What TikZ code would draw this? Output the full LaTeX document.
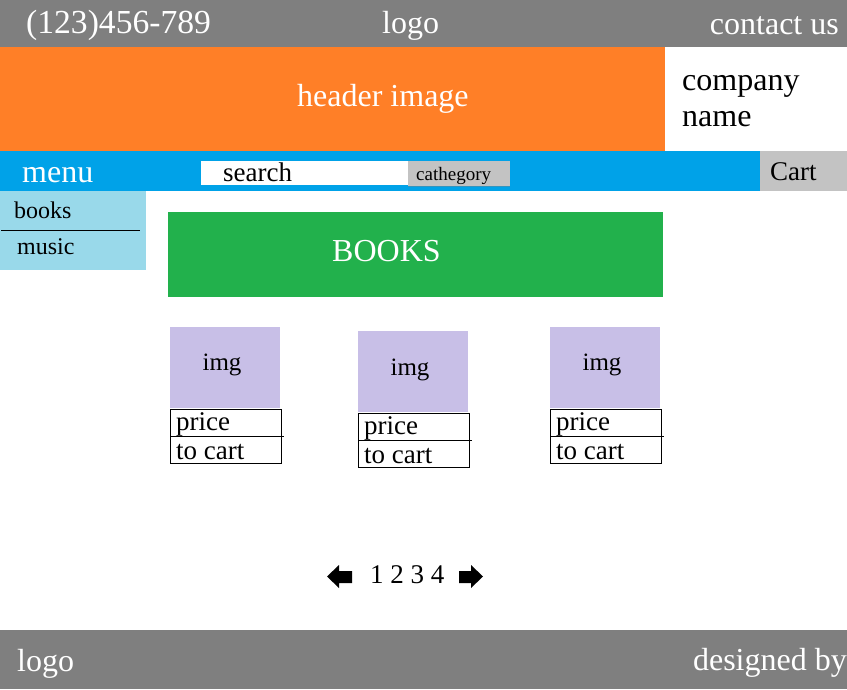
\documentclass[tikz,border=0pt]{standalone}
\usepackage{fontspec}
\setmainfont{Liberation Serif}
\usetikzlibrary{positioning}

\definecolor{bargray}{RGB}{127,127,127}
\definecolor{headorange}{RGB}{255,127,39}
\definecolor{menublue}{RGB}{0,162,232}
\definecolor{sideblue}{RGB}{153,217,234}
\definecolor{bannergreen}{RGB}{34,177,76}
\definecolor{imglilac}{RGB}{200,191,231}
\definecolor{btngray}{RGB}{195,195,195}

\begin{document}
\begin{tikzpicture}[x=1pt,y=-1pt,
	box/.style={inner sep=0pt,outer sep=0pt,anchor=north west},
	cell/.style={box,draw,line width=1pt,minimum width=111pt,minimum height=27pt},
	img node/.style={box,fill=imglilac,minimum width=110pt,minimum height=81pt},
	word/.style={inner sep=0pt,anchor=base west,font=\fontsize{#1}{#1}\selectfont},
	word/.default=32]
	
	\useasboundingbox (0,0) rectangle (847,689);
	
	% bars and blocks
	\node[box,fill=bargray,minimum width=847pt,minimum height=47pt] (topbar) at (0,0) {};
	\node[box,fill=headorange,minimum width=665pt,minimum height=104pt] (header) at (0,47) {};
	\node[box,fill=menublue,minimum width=760pt,minimum height=40pt] (menubar) at (0,151) {};
	\node[box,fill=btngray,minimum width=87pt,minimum height=40pt] (cart) at (760,151) {};
	\node[box,fill=white,minimum width=207pt,minimum height=24pt] (search) at (201,161) {};
	\node[box,fill=btngray,minimum width=102pt,minimum height=25pt] (cat) at (408,161) {};
	\node[box,fill=sideblue,minimum width=146pt,minimum height=79pt] (side) at (0,191) {};
	\node[box,fill=bannergreen,minimum width=495pt,minimum height=85pt] (banner) at (168,212) {};
	\node[box,fill=bargray,minimum width=847pt,minimum height=59pt] (bottombar) at (0,630) {};
	
	\draw ([xshift=1pt]side.west) -- ([xshift=-6pt]side.east);
	\draw[menublue!60!gray] (cat.south west) -- (cat.south east);
	
	% cards
	\node[img node] (img1) at (170,327) {};
	\node[cell] (price1) at (170,409) {};
	\node[cell,below=0pt of price1] (tocart1) {};
	\node[img node] (img2) at (358,331) {};
	\node[cell] (price2) at (358,413) {};
	\node[cell,below=0pt of price2] (tocart2) {};
	\node[img node] (img3) at (550,327) {};
	\node[cell] (price3) at (550,409) {};
	\node[cell,below=0pt of price3] (tocart3) {};
	
	\draw[line width=1pt] (price1.south east) -- ++(3,0);
	\draw[line width=1pt] (price2.south east) -- ++(3,0);
	\draw[line width=1pt] (price3.south east) -- ++(3,0);
	
	% texts
	\node[word=33.6,text=white] (phone) at (26,33) {(123)456-789};
	\node[word,text=white] (logotop) at (382,33) {logo};
	\node[word,text=white,anchor=base east] (contact) at (839,34) {contact us};
	\node[word,text=white] (headtext) at (297,106) {header image};
	\node[word] (company) at (682,90) {company};
	\node[word] (name) at (682,126) {name};
	\node[word,text=white] (menutext) at (22,182) {menu};
	\node[word=27] (searchtext) at (223,181) {search};
	\node[word=19] (cattext) at (416,180) {cathegory};
	\node[word=27] (carttext) at (770,180) {Cart};
	\node[word=24] (books) at (14,218) {books};
	\node[word=24] (music) at (17,254) {music};
	\node[word,text=white] (bannertext) at (332,261) {BOOKS};
	
	\node[word=25,anchor=base] (imgtext1) at (222,370) {img};
	\node[word=27] (pricetext1) at (176,430) {price};
	\node[word=27] (carttext1) at (176,459) {to cart};
	\node[word=25,anchor=base] (imgtext2) at (410,375) {img};
	\node[word=27] (pricetext2) at (364,434) {price};
	\node[word=27] (carttext2) at (364,463) {to cart};
	\node[word=25,anchor=base] (imgtext3) at (602,370) {img};
	\node[word=27] (pricetext3) at (556,430) {price};
	\node[word=27] (carttext3) at (556,459) {to cart};
	
	% pages
	\node[word=27] (pages) at (370,583) {1 2 3 4};
	\fill (327,576.5) -- (339,565) -- (339,571) -- (352,571) -- (352,583) -- (339,583) -- (339,588) -- cycle;
	\fill (483,576.5) -- (471,565) -- (471,571) -- (459,571) -- (459,583) -- (471,583) -- (471,588) -- cycle;
	
	\node[word,text=white] (logobottom) at (17,671) {logo};
	\node[word,text=white,anchor=base east] (designed) at (847,670) {designed by};
\end{tikzpicture}
\end{document}
